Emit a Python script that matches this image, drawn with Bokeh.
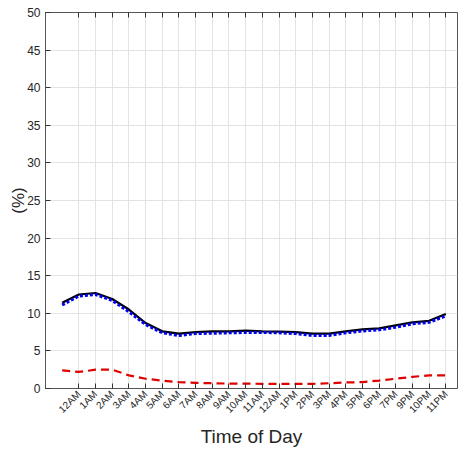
import numpy as np
from bokeh.plotting import figure
from bokeh.models import LinearAxis, Range1d, FixedTicker
from bokeh.embed import file_html
from bokeh.resources import INLINE

hours = list(range(1, 25))
black_vals = [11.4, 12.5, 12.7, 11.9, 10.5, 8.7, 7.6, 7.3, 7.5, 7.6, 7.6, 7.7,
              7.6, 7.55, 7.5, 7.3, 7.3, 7.6, 7.85, 8.0, 8.4, 8.8, 9.0, 9.9]
blue_vals = [11.1, 12.3, 12.5, 11.7, 10.2, 8.5, 7.4, 7.05, 7.3, 7.35, 7.4, 7.45,
             7.45, 7.4, 7.3, 7.05, 7.05, 7.4, 7.65, 7.8, 8.15, 8.6, 8.8, 9.65]
red_vals = [2.4, 2.2, 2.5, 2.5, 1.75, 1.3, 1.05, 0.85, 0.75, 0.7, 0.65, 0.65,
            0.62, 0.62, 0.62, 0.62, 0.7, 0.8, 0.85, 1.05, 1.3, 1.55, 1.75, 1.75]
tick_pos = list(range(2, 25))
tick_labels = ["12AM", "1AM", "2AM", "3AM", "4AM", "5AM", "6AM", "7AM", "8AM", "9AM",
               "10AM", "11AM", "12AM", "1PM", "2PM", "3PM", "4PM", "5PM", "6PM", "7PM",
               "9PM", "10PM", "11PM"]
y_ticks = list(range(0, 51, 5))

FONT = "Liberation Sans"

p = figure(width=458, height=449, output_backend="svg", toolbar_location=None,
           x_range=Range1d(0, 24.7), y_range=Range1d(0, 50),
           min_border_left=45, min_border_right=1, min_border_top=12, min_border_bottom=0)
p.outline_line_color = "#555555"
p.outline_line_width = 1

p.line(hours, black_vals, line_color="black", line_width=2.2)
p.line(hours, blue_vals, line_color="#0000ee", line_width=3, line_dash="3 2")
p.line(hours, red_vals, line_color="#e00000", line_width=2.2, line_dash="8 5")

xa = p.xaxis[0]
xa.ticker = FixedTicker(ticks=tick_pos)
xa.major_label_overrides = {t: l for t, l in zip(tick_pos, tick_labels)}
xa.major_label_orientation = np.pi / 4
xa.major_label_standoff = 4
xa.major_tick_in = 5
xa.major_tick_out = 0
xa.minor_tick_line_color = None
xa.axis_line_color = "#555555"
xa.major_tick_line_color = "#333333"
xa.major_label_text_font = FONT
xa.major_label_text_font_size = "10px"
xa.major_label_text_color = "#262626"
xa.axis_label = "Time of Day"
xa.axis_label_text_font = FONT
xa.axis_label_text_font_size = "19px"
xa.axis_label_text_font_style = "normal"
xa.axis_label_text_color = "#262626"
xa.axis_label_standoff = 4

ya = p.yaxis[0]
ya.ticker = FixedTicker(ticks=y_ticks)
ya.major_tick_in = 5
ya.major_tick_out = 0
ya.minor_tick_line_color = None
ya.axis_line_color = "#555555"
ya.major_tick_line_color = "#333333"
ya.major_label_text_font = FONT
ya.major_label_text_font_size = "12px"
ya.major_label_text_color = "#262626"
ya.axis_label = "(%)"
ya.axis_label_text_font = FONT
ya.axis_label_text_font_size = "17px"
ya.axis_label_text_font_style = "normal"
ya.axis_label_text_color = "#262626"
ya.axis_label_standoff = -4

top = LinearAxis(ticker=FixedTicker(ticks=tick_pos), major_tick_in=5, major_tick_out=0,
                 minor_tick_line_color=None, major_label_text_font_size="1px",
                 major_label_text_color=None, major_label_standoff=0,
                 axis_line_color="#555555", major_tick_line_color="#333333")
p.add_layout(top, "above")

p.xgrid.ticker = FixedTicker(ticks=tick_pos)
p.ygrid.ticker = FixedTicker(ticks=y_ticks)
p.xgrid.grid_line_color = "#e3e3e3"
p.ygrid.grid_line_color = "#e3e3e3"

open("out.html", "w").write(file_html(p, INLINE))
